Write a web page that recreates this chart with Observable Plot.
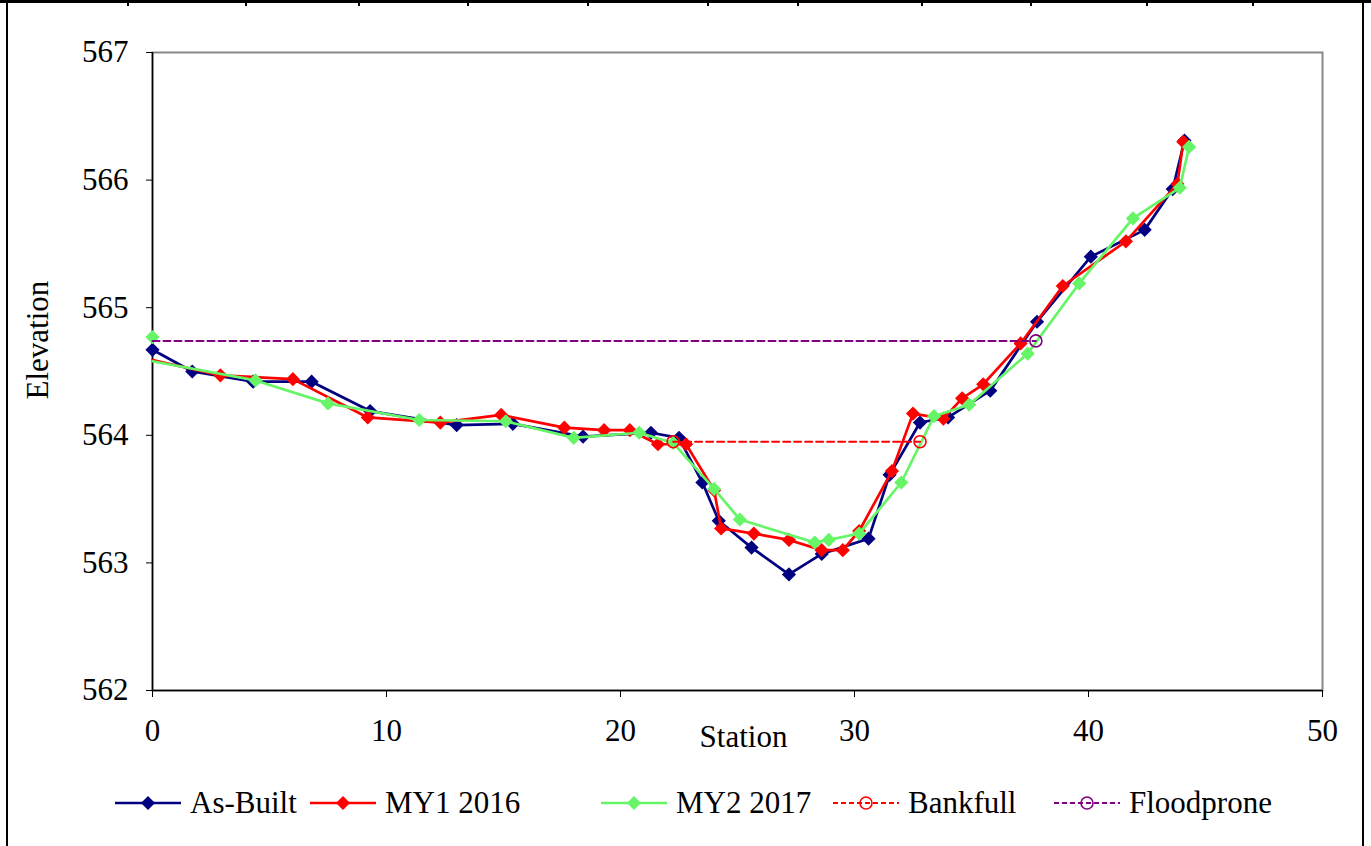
<!DOCTYPE html>
<html>
<head>
<meta charset="utf-8">
<script src="https://cdn.jsdelivr.net/npm/d3@7"></script>
<script src="https://cdn.jsdelivr.net/npm/@observablehq/plot@0.6"></script>
<style>
  body { margin: 0; background: #fff; }
  #wrap { position: relative; width: 1371px; height: 846px; overflow: hidden; background: #fff;
          font-family: "Liberation Serif", "Times New Roman", serif; }
  #chart { position: absolute; left: 0; top: 0; }
  .topline { position: absolute; left: 0; top: 0; width: 1371px; height: 3px; background: #000; }
  .toptick { position: absolute; top: 0; width: 2px; height: 6px; background: #000; }
  .vborder { position: absolute; top: 0; width: 2px; height: 846px; background: #000; }
  #legend { position: absolute; left: 0; top: 770px; width: 1371px; height: 66px; }
  .item { position: absolute; top: 0; height: 66px; display: flex; align-items: center; }
  .item span { font-size: 31px; color: #000; margin-left: 9px; white-space: nowrap; }
</style>
</head>
<body>
<div id="wrap">
  <div id="chart"></div>
  <div id="legend"></div>
</div>
<script>
// ---- data ----
const xTicks = [0, 10, 20, 30, 40, 50];
const yTicks = [562, 563, 564, 565, 566, 567];

const asBuiltStation = [0, 1.7, 4.3, 6.8, 9.3, 13.0, 15.4, 18.4, 21.3, 22.5, 23.5, 24.2, 25.6, 27.2, 28.6, 30.6, 31.5, 32.8, 34.0, 35.8, 37.8, 40.1, 42.4, 43.6, 44.1];
const asBuiltElev    = [564.67, 564.50, 564.42, 564.42, 564.19, 564.08, 564.09, 563.99, 564.02, 563.98, 563.63, 563.33, 563.12, 562.91, 563.07, 563.19, 563.69, 564.10, 564.14, 564.35, 564.89, 565.40, 565.61, 565.93, 566.31];

const my1Station = [0, 2.9, 6.0, 9.2, 12.3, 14.9, 17.6, 19.3, 20.4, 21.6, 22.8, 24.0, 24.3, 25.7, 27.2, 28.6, 29.5, 30.2, 31.6, 32.5, 33.8, 34.6, 35.5, 37.1, 38.9, 41.6, 43.8, 44.05];
const my1Elev    = [564.59, 564.47, 564.44, 564.14, 564.10, 564.16, 564.06, 564.04, 564.04, 563.93, 563.93, 563.57, 563.27, 563.23, 563.18, 563.10, 563.10, 563.25, 563.72, 564.17, 564.13, 564.29, 564.40, 564.72, 565.17, 565.52, 565.97, 566.30];

const my2Station = [0, 0, 4.4, 7.5, 11.4, 15.1, 18.0, 20.8, 22.25, 24.0, 25.1, 28.3, 28.9, 30.2, 32.0, 33.4, 34.9, 37.4, 39.6, 41.9, 43.9, 44.3];
const my2Elev    = [564.77, 564.58, 564.43, 564.25, 564.12, 564.11, 563.98, 564.02, 563.94, 563.58, 563.34, 563.16, 563.18, 563.23, 563.63, 564.15, 564.24, 564.64, 565.19, 565.70, 565.94, 566.26];

const bankfullStation = [22.25, 32.8];
const bankfullElev    = [563.95, 563.95];

const floodproneStation = [0, 37.75];
const floodproneElev    = [564.74, 564.74];

const seriesNames = ["As-Built", "MY1 2016", "MY2 2017", "Bankfull", "Floodprone"];
const seriesColors = ["#000080", "#ff0000", "#66f566", "#ff0000", "#800080"];

// ---- build rows ----
const rows = (st, el) => st.map((s, i) => ({station: s, elev: el[i]}));
const asBuilt = rows(asBuiltStation, asBuiltElev);
const my1 = rows(my1Station, my1Elev);
const my2 = rows(my2Station, my2Elev);
const bankfull = rows(bankfullStation, bankfullElev);
const floodprone = rows(floodproneStation, floodproneElev);

const enc = {x: "station", y: "elev"};
const [cAB, cM1, cM2, cBF, cFP] = seriesColors;
const dia = {symbol: "diamond2", r: 6.4};

const plot = Plot.plot({
  width: 1371,
  height: 770,
  marginLeft: 152,
  marginRight: 49,
  marginTop: 52,
  marginBottom: 80,
  style: {fontFamily: "'Liberation Serif', 'Times New Roman', serif", fontSize: "31px", color: "#000", background: "transparent"},
  x: {domain: [0, 50]},
  y: {domain: [562, 567]},
  marks: [
    Plot.frame({stroke: "#888", strokeWidth: 2}),
    Plot.ruleX([0], {stroke: "#000", strokeWidth: 1.5}),
    Plot.ruleY([562], {stroke: "#000", strokeWidth: 1.5}),
    Plot.axisX({ticks: xTicks, tickSize: 7, tickPadding: 21, label: null, tickFormat: d => String(d)}),
    Plot.axisY({ticks: yTicks, tickSize: 6, tickPadding: 18, label: null, tickFormat: d => String(d)}),
    Plot.text(["Station"], {frameAnchor: "bottom", dy: 56, dx: 6, fill: "#000"}),
    Plot.text(["Elevation"], {frameAnchor: "left", dx: -114, dy: 28, rotate: -90, fill: "#000"}),
    // As-Built
    Plot.line(asBuilt, {...enc, stroke: cAB, strokeWidth: 2.7}),
    Plot.dot(asBuilt, {...enc, ...dia, fill: cAB}),
    // MY1 2016 (first point drawn without marker)
    Plot.line(my1, {...enc, stroke: cM1, strokeWidth: 2.7}),
    Plot.dot(my1.slice(1), {...enc, ...dia, fill: cM1}),
    // MY2 2017 (first point is a lone marker; second starts line without marker)
    Plot.line(my2.slice(1), {...enc, stroke: cM2, strokeWidth: 2.7}),
    Plot.dot(my2.filter((d, i) => i !== 1), {...enc, ...dia, fill: cM2}),
    // Bankfull
    Plot.line(bankfull, {...enc, stroke: cBF, strokeWidth: 2, strokeDasharray: "7,4"}),
    Plot.dot(bankfull, {...enc, r: 6, stroke: cBF, strokeWidth: 1.6, fill: "none"}),
    // Floodprone
    Plot.line(floodprone, {...enc, stroke: cFP, strokeWidth: 2, strokeDasharray: "7,4"}),
    Plot.dot(floodprone.slice(1), {...enc, r: 6, stroke: cFP, strokeWidth: 1.6, fill: "none"})
  ]
});
document.getElementById("chart").appendChild(plot);

// ---- decorative page frame (table borders around the chart image) ----
const wrap = document.getElementById("wrap");
const addDiv = (cls, css) => { const d = document.createElement("div"); d.className = cls; Object.assign(d.style, css); wrap.appendChild(d); };
addDiv("topline", {});
const topTickX = [127, 245, 358, 467, 587, 707, 797, 921, 1030, 1146, 1252];
topTickX.forEach(x => addDiv("toptick", {left: x + "px"}));
addDiv("vborder", {left: "6px"});
addDiv("vborder", {left: "1362px"});

// ---- legend ----
const legendLeft = [115, 310, 601, 833, 1054];
const legend = document.getElementById("legend");
seriesNames.forEach((name, i) => {
  const item = document.createElement("div");
  item.className = "item";
  item.style.left = legendLeft[i] + "px";
  const color = seriesColors[i];
  const dashed = i >= 3;
  const marker = dashed
    ? `<circle cx="33" cy="12" r="6" fill="none" stroke="${color}" stroke-width="1.6"/>`
    : `<path d="M33,5 L40,12 L33,19 L26,12 Z" fill="${color}"/>`;
  item.innerHTML = `<svg width="66" height="24" viewBox="0 0 66 24">
      <line x1="0" y1="12" x2="66" y2="12" stroke="${color}" stroke-width="${dashed ? 2 : 2.7}" ${dashed ? 'stroke-dasharray="5,3"' : ''}/>
      ${marker}
    </svg><span>${name}</span>`;
  legend.appendChild(item);
});
</script>
</body>
</html>
